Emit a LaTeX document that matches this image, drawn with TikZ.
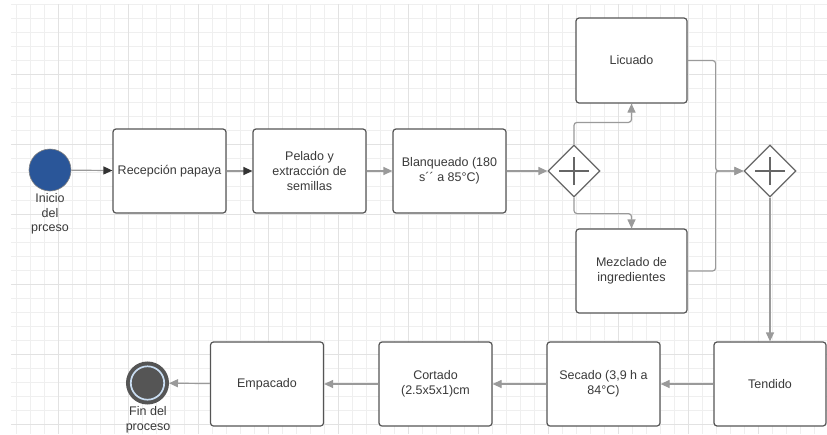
\documentclass[tikz,border=0pt]{standalone}
\usepackage{fontspec}
\setmainfont{Liberation Sans}
\usetikzlibrary{shapes.geometric,arrows.meta}
\definecolor{bordegris}{HTML}{555555}
\definecolor{lineagris}{HTML}{9A9A9A}
\definecolor{flechaoscura}{HTML}{333333}
\definecolor{texto}{HTML}{3A3A3A}
\definecolor{azulinicio}{HTML}{2A5699}
\definecolor{anillo}{HTML}{C9DDF2}
\definecolor{rejillafina}{HTML}{EFEFEF}
\definecolor{rejillagruesa}{HTML}{E2E2E2}
\tikzset{
  caja/.style={draw=bordegris, line width=1.2pt, rounded corners=3pt, fill=white,
    minimum width=113pt, minimum height=84pt, align=center, text=texto,
    font=\fontsize{12.5}{15}\selectfont, inner sep=2pt},
  compuerta/.style={diamond, draw=bordegris!90, line width=1.2pt, fill=white,
    minimum size=52pt, inner sep=0pt},
  cruz/.style={draw=bordegris!90, line width=1.3pt},
  flujo/.style={draw=lineagris, line width=1.2pt, rounded corners=3pt,
    -{Triangle[length=9pt,width=8pt]}},
  flujooscuro/.style={draw=lineagris, line width=1.2pt,
    -{Triangle[length=9pt,width=8pt,color=flechaoscura]}},
  etiqueta/.style={align=center, text=texto, font=\fontsize{12.5}{14.5}\selectfont, inner sep=0pt}
}
\begin{document}
\begin{tikzpicture}[x=1pt,y=-1pt]
%	Cadre :
\useasboundingbox[fill=white] (0,0) rectangle (827,434);
%	Tracé de la grille :
\foreach \gx in {16,30,...,827} \draw[rejillafina,line width=0.8pt] (\gx,4) -- (\gx,434);
\foreach \gy in {4,18,...,434} \draw[rejillafina,line width=0.8pt] (11,\gy) -- (827,\gy);
\foreach \gx in {58,128,...,827} \draw[rejillagruesa,line width=0.9pt] (\gx,4) -- (\gx,434);
\foreach \gy in {74,144,...,434} \draw[rejillagruesa,line width=0.9pt] (11,\gy) -- (827,\gy);
%	Début et fin :
\node[circle, draw=gray, line width=0.6pt, fill=azulinicio, minimum size=42pt, inner sep=0pt] (inicio) at (50,170) {};
\node[etiqueta] (inicioeti) at (50,214) {Inicio\\del\\prceso};
\node[circle, draw=bordegris, line width=4pt, fill=bordegris, minimum size=39pt, inner sep=0pt] (fin) at (147.5,383) {};
\draw[anillo, line width=1.7pt] (fin.center) circle[radius=16.7];
\node[etiqueta] (fineti) at (148,420) {Fin del\\proceso};
%	Étapes :
\node[caja] (recepcion) at (169.5,171) {Recepción papaya};
\node[caja] (pelado) at (309.5,171) {Pelado y\\extracción de\\semillas};
\node[caja] (blanqueado) at (449.5,171) {Blanqueado (180\\s´´ a 85°C)};
\node[caja, minimum width=111pt, minimum height=85pt] (licuado) at (631.5,60.5) {Licuado};
\node[caja, minimum width=111pt] (mezclado) at (631.5,271) {Mezclado de\\ingredientes};
\node[caja, minimum width=112pt] (tendido) at (770,384) {Tendido};
\node[caja] (secado) at (603.5,384) {Secado (3,9 h a\\84°C)};
\node[caja] (cortado) at (435.5,384) {Cortado\\(2.5x5x1)cm};
\node[caja] (empacado) at (267,384) {Empacado};
%	Portes :
\node[compuerta] (division) at (574,171) {};
\node[compuerta] (union) at (770,171) {};
\foreach \g in {division,union}{
  \draw[cruz] ([xshift=-15pt]\g.center) -- ([xshift=15pt]\g.center);
  \draw[cruz] ([yshift=-14pt]\g.center) -- ([yshift=14pt]\g.center);
}
%	Tracé des flèches :
\draw[flujooscuro] (inicio) -- (recepcion);
\draw[flujooscuro] (recepcion) -- (pelado);
\draw[flujo] (pelado) -- (blanqueado);
\draw[flujo] (blanqueado) -- (division);
\draw[flujo] (division.north) -- ++(0,-22) -| (licuado.south);
\draw[flujo] (division.south) -- ++(0,16) -| (mezclado.north);
\draw[flujo] (licuado.east) -- ++(28,0) |- (union.west);
\draw[flujo] (mezclado.east) -- ++(28,0) |- (union.west);
\draw[flujo] (union.south) -- (tendido.north);
\draw[flujo] (tendido) -- (secado);
\draw[flujo] (secado) -- (cortado);
\draw[flujo] (cortado) -- (empacado);
\draw[flujo] (empacado) -- (fin);
\end{tikzpicture}
\end{document}
